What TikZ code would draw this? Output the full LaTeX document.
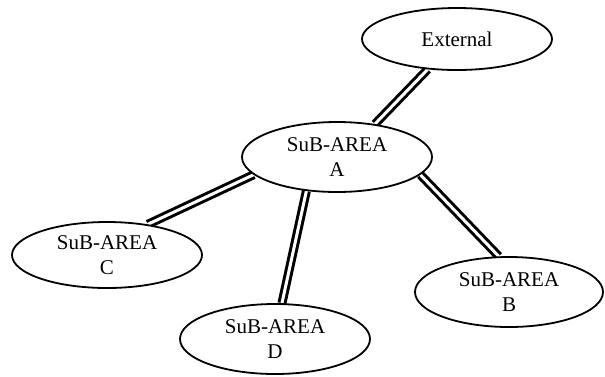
\documentclass[tikz,border=0pt]{standalone}
\usepackage{fontspec}
\setmainfont{Liberation Serif}
\usetikzlibrary{shapes.geometric}
\pgfdeclarelayer{bg}
\pgfsetlayers{bg,main}
\begin{document}
\begin{tikzpicture}[x=1pt,y=-1pt,
  area/.style={ellipse,draw=black,fill=white,line width=1.8pt,inner sep=0pt,
    minimum width=190pt,minimum height=70pt,align=center,
    font=\fontsize{21}{25}\selectfont},
  link/.style={draw=black,line width=3pt,double=white,double distance=3pt}]
\useasboundingbox (0,0) rectangle (605,376);
\node[area,minimum height=62pt] (ext) at (457,39) {External};
\node[area] (a) at (337,157) {SuB-AREA\\A};
\node[area,minimum height=66pt] (c) at (107,255) {SuB-AREA\\C};
\node[area] (d) at (275,339) {SuB-AREA\\D};
\node[area,minimum width=188pt] (b) at (509,292) {SuB-AREA\\B};
\begin{pgfonlayer}{bg}
\draw[link] (ext.226) -- (a.41.6);
\draw[link] (a.192) -- (c.37);
\draw[link] (a.228) -- (d.79);
\draw[link] (a.348) -- (b.106);
\end{pgfonlayer}
\end{tikzpicture}
\end{document}
